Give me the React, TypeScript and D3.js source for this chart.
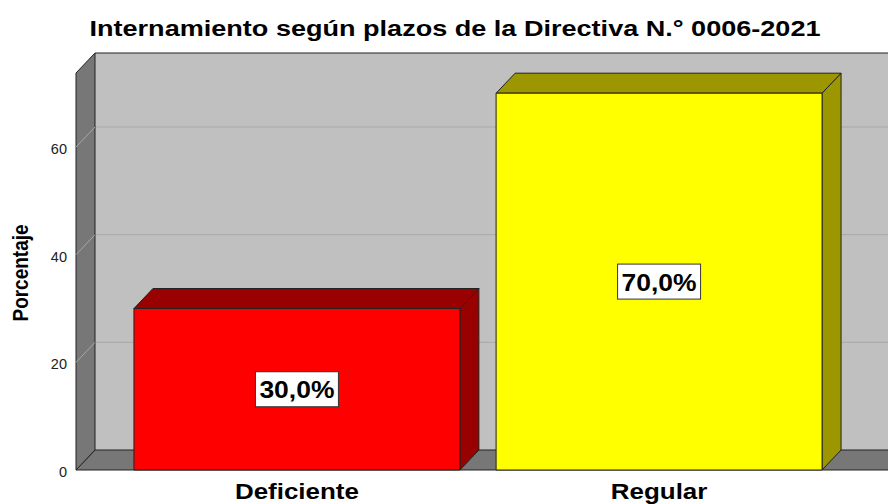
import * as d3 from 'd3'

const categories = ['Deficiente', 'Regular']
const percentages = [30, 70]
const valueLabels = ['30,0%', '70,0%']
const yTicks = [0, 20, 40, 60]
const barColors = ['#ff0000', '#ffff00']
const barShades = ['#990000', '#9c9600']

const title = 'Internamiento según plazos de la Directiva N.° 0006-2021'
const yTitle = 'Porcentaje'

const W = 888
const H = 504
const FONT = '"Liberation Sans", Arial, sans-serif'

export default function App() {
  // 3D depth offsets (SPSS-style box)
  const dx = 19
  const dy = 20
  const left = 76
  const right = 880
  const base = 470
  const top = 73

  const x = d3.scaleBand().domain(categories).range([left, right]).paddingInner(0.1).paddingOuter(0.16)
  const y = d3.scaleLinear().domain([0, 73.75]).range([base, top])

  const backRight = right + dx + 20

  return (
    <>
      <style>{'body{margin:0}'}</style>
      <svg width={W} height={H} style={{ display: 'block', background: '#fff' }} fontFamily={FONT}>
        <text
          x={455}
          y={36}
          textAnchor="middle"
          fontSize={22}
          fontWeight="bold"
          textLength={731}
          lengthAdjust="spacingAndGlyphs"
          fill="#000"
        >
          {title}
        </text>

        {/* back wall */}
        <rect x={left + dx} y={top - dy} width={backRight - left - dx} height={base - top} fill="#c0c0c0" />
        {yTicks
          .filter((t) => t > 0)
          .map((t) => (
            <line key={'g' + t} x1={left + dx} x2={backRight} y1={y(t) - dy} y2={y(t) - dy} stroke="#a8a8a8" strokeWidth={1} />
          ))}
        <line x1={left + dx} x2={backRight} y1={top - dy} y2={top - dy} stroke="#222" strokeWidth={1} />

        {/* floor */}
        <polygon
          points={`${left},${base} ${left + dx},${base - dy} ${backRight},${base - dy} ${backRight - dx},${base}`}
          fill="#777777"
          stroke="#222"
          strokeWidth={1}
        />

        {/* left side wall */}
        <polygon
          points={`${left},${top} ${left + dx},${top - dy} ${left + dx},${base - dy} ${left},${base}`}
          fill="#777777"
          stroke="#222"
          strokeWidth={1}
        />
        {yTicks
          .filter((t) => t > 0)
          .map((t) => (
            <line key={'s' + t} x1={left} x2={left + dx} y1={y(t)} y2={y(t) - dy} stroke="#a8a8a8" strokeWidth={1} />
          ))}

        {/* bars */}
        {categories.map((c, i) => {
          const x0 = x(c) as number
          const x1 = x0 + x.bandwidth()
          const yv = y(percentages[i])
          return (
            <g key={c} stroke="#222" strokeWidth={1} strokeLinejoin="round">
              <polygon
                points={`${x1},${yv} ${x1 + dx},${yv - dy} ${x1 + dx},${base - dy} ${x1},${base}`}
                fill={barShades[i]}
              />
              <polygon
                points={`${x0},${yv} ${x0 + dx},${yv - dy} ${x1 + dx},${yv - dy} ${x1},${yv}`}
                fill={barShades[i]}
              />
              <rect x={x0} y={yv} width={x1 - x0} height={base - yv} fill={barColors[i]} />
            </g>
          )
        })}

        {/* value labels */}
        {categories.map((c, i) => {
          const cx = (x(c) as number) + x.bandwidth() / 2
          const cy = (y(percentages[i]) + base) / 2
          return (
            <g key={'v' + c}>
              <rect x={cx - 41.5} y={cy - 17.5} width={83} height={35} fill="#fff" stroke="#333" strokeWidth={1} />
              <text
                x={cx}
                y={cy + 9}
                textAnchor="middle"
                fontSize={24}
                fontWeight="bold"
                textLength={75}
                lengthAdjust="spacingAndGlyphs"
                fill="#000"
              >
                {valueLabels[i]}
              </text>
            </g>
          )
        })}

        {/* y tick labels */}
        {yTicks.map((t) => (
          <text key={'t' + t} x={67} y={y(t) + 7} textAnchor="end" fontSize={14.5} fill="#222">
            {t}
          </text>
        ))}

        {/* y axis title */}
        <text
          transform={`translate(27.5, ${273}) scale(1.12, 1) rotate(-90)`}
          textAnchor="middle"
          fontSize={19}
          fontWeight="bold"
          fill="#000"
        >
          {yTitle}
        </text>

        {/* category labels */}
        {categories.map((c) => (
          <text
            key={'c' + c}
            transform={`translate(${(x(c) as number) + x.bandwidth() / 2}, 498.5) scale(1.18, 1)`}
            textAnchor="middle"
            fontSize={22}
            fontWeight="bold"
            fill="#000"
          >
            {c}
          </text>
        ))}
      </svg>
    </>
  )
}
